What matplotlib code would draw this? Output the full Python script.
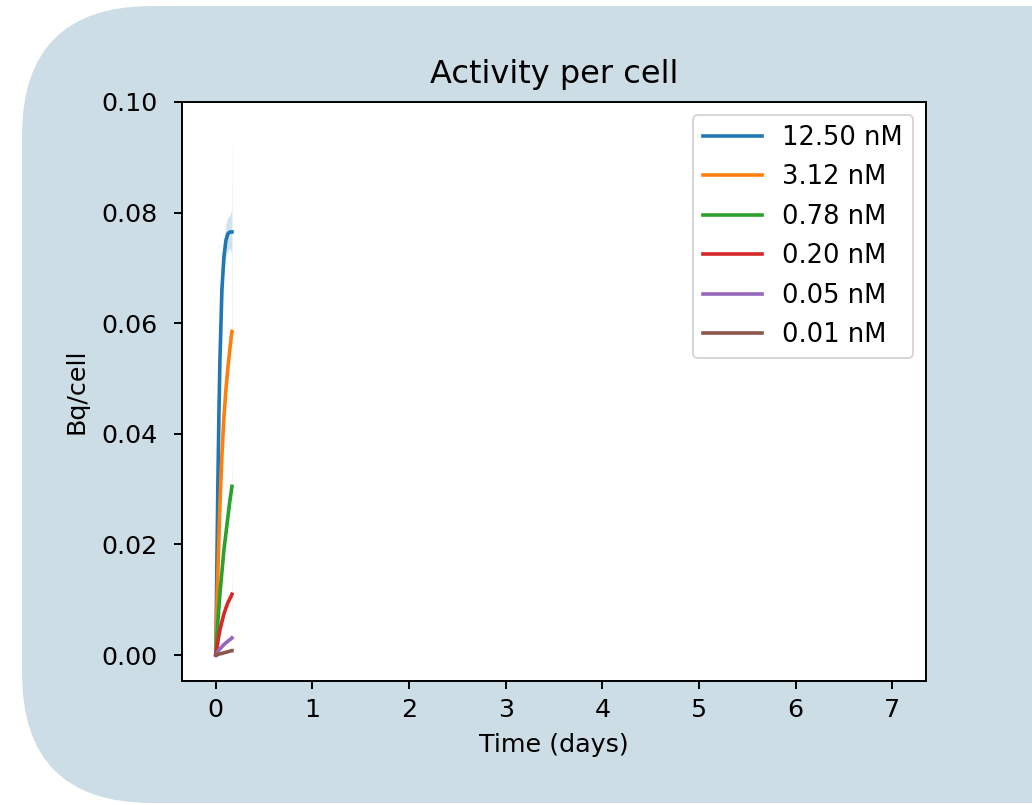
import numpy as np
import matplotlib
matplotlib.use("Agg")
import matplotlib.pyplot as plt
from matplotlib.patches import FancyBboxPatch

# time points in hours, plotted in days
hours = [0, 0.25, 0.5, 0.75, 1.0, 1.5, 2.0, 2.5, 3.0, 3.5, 3.9, 4.0]

labels = ["12.50 nM", "3.12 nM", "0.78 nM", "0.20 nM", "0.05 nM", "0.01 nM"]

# mean Bq/cell for each concentration
act_1250 = [0, 0.016, 0.031, 0.043, 0.053, 0.066, 0.072, 0.075, 0.0762, 0.0765, 0.0765, 0.0765]
act_312 = [0, 0.008, 0.015, 0.021, 0.027, 0.036, 0.043, 0.048, 0.052, 0.0555, 0.058, 0.0585]
act_078 = [0, 0.003, 0.006, 0.0085, 0.011, 0.015, 0.019, 0.022, 0.025, 0.028, 0.030, 0.0305]
act_020 = [0, 0.0012, 0.0024, 0.0035, 0.0045, 0.006, 0.0074, 0.0085, 0.0095, 0.0102, 0.0108, 0.011]
act_005 = [0, 0.0003, 0.0006, 0.0009, 0.0011, 0.0015, 0.0019, 0.0022, 0.0025, 0.0028, 0.0030, 0.0031]
act_001 = [0, 0.0001, 0.0001, 0.0002, 0.0002, 0.0003, 0.0004, 0.0005, 0.0006, 0.0007, 0.0008, 0.0008]

# half-width of the confidence band
ci_1250 = [0, 0.001, 0.001, 0.0015, 0.002, 0.002, 0.0025, 0.003, 0.003, 0.003, 0.004, 0.019]
ci_312 = [0, 0.0005, 0.0008, 0.001, 0.001, 0.001, 0.001, 0.001, 0.001, 0.001, 0.002, 0.010]
ci_078 = [0, 0.0003, 0.0004, 0.0005, 0.0005, 0.0005, 0.0005, 0.0005, 0.0005, 0.0005, 0.001, 0.009]
ci_020 = [0, 0.0002, 0.0002, 0.0002, 0.0002, 0.0002, 0.0002, 0.0002, 0.0002, 0.0003, 0.0005, 0.006]
ci_005 = [0, 0.0001, 0.0001, 0.0001, 0.0001, 0.0001, 0.0001, 0.0001, 0.0001, 0.0001, 0.0002, 0.0005]
ci_001 = [0, 0, 0, 0, 0, 0, 0, 0, 0, 0, 0.0001, 0.0002]

series = [act_1250, act_312, act_078, act_020, act_005, act_001]
bands = [ci_1250, ci_312, ci_078, ci_020, ci_005, ci_001]
colors = ["#1f77b4", "#ff7f0e", "#2ca02c", "#d62728", "#9467bd", "#8c564b"]

xticks = [0, 1, 2, 3, 4, 5, 6, 7]
yticks = [0.00, 0.02, 0.04, 0.06, 0.08, 0.10]

plt.rcParams["font.family"] = ["DejaVu Sans"]
plt.rcParams["font.size"] = 18.3

fig = plt.figure(figsize=(10.32, 8.05), dpi=100, facecolor="white")

# rounded panel behind the chart
bg = fig.add_axes([0, 0, 1, 1], zorder=-10)
bg.set_xlim(0, 1032)
bg.set_ylim(0, 805)
bg.axis("off")
bg.add_patch(FancyBboxPatch((22, 2), 1300, 797,
                            boxstyle="round,pad=0,rounding_size=130",
                            facecolor="#cddde5", edgecolor="none"))

ax = fig.add_axes([0.1764, 0.154, 0.7209, 0.7193])
ax.set_facecolor("white")

t = np.array(hours) / 24.0
for y, ci, c, lab in zip(series, bands, colors, labels):
    y = np.array(y)
    ci = np.array(ci)
    ax.fill_between(t, y - ci, y + ci, color=c, alpha=0.2, linewidth=0)
    ax.plot(t, y, color=c, lw=2.6, label=lab)

ax.set_xlim(-0.35, 7.35)
ax.set_ylim(-0.0047, 0.10)
ax.set_xticks(xticks)
ax.set_yticks(yticks)
ax.yaxis.set_major_formatter(matplotlib.ticker.FormatStrFormatter("%.2f"))
for s in ax.spines.values():
    s.set_linewidth(1.4)
ax.tick_params(width=1.4, length=6)
ax.tick_params(axis="x", pad=6)
ax.tick_params(axis="y", pad=11.5)

ax.set_title("Activity per cell", fontsize=23, pad=13.5)
ax.set_xlabel("Time (days)", labelpad=8)
ax.set_ylabel("Bq/cell", labelpad=9)
leg = ax.legend(loc="upper right", fontsize=18.5, handlelength=2.3,
                handletextpad=0.78, labelspacing=0.52, borderpad=0.4)
leg.get_frame().set_linewidth(1.4)

fig.savefig("out.png", dpi=100, facecolor="white")
